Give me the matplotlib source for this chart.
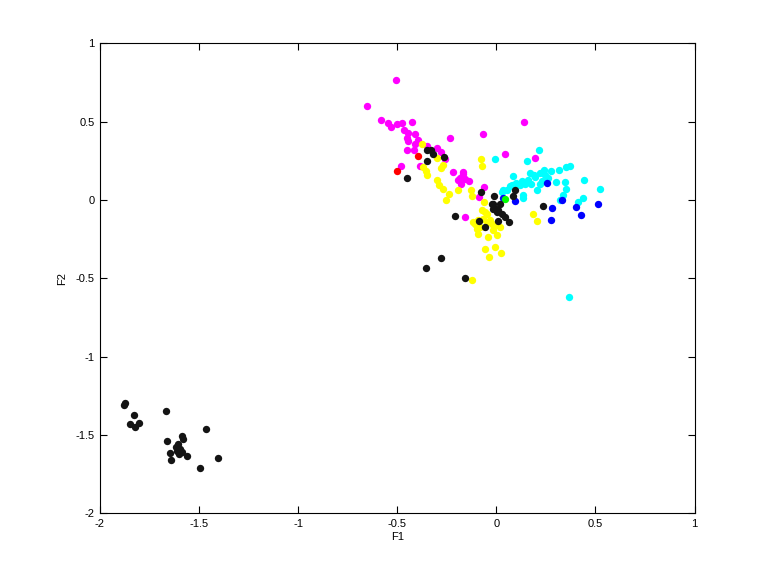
import matplotlib
matplotlib.use("Agg")
import matplotlib.pyplot as plt

plt.rcParams['font.family'] = ['Liberation Sans', 'DejaVu Sans']

magenta_x = [-0.505, -0.655, -0.580, -0.545, -0.532, -0.503, -0.478, -0.424, -0.467, -0.444,
             -0.409, -0.452, -0.394, -0.447, -0.409, -0.449, -0.415, -0.352, -0.299, -0.281,
             -0.259, -0.233, -0.066, 0.141, 0.045, 0.196, -0.481, -0.385, -0.218, -0.170,
             -0.184, -0.159, -0.139, -0.179, -0.169, -0.194, -0.061, -0.090, -0.157]
magenta_y = [0.768, 0.602, 0.513, 0.491, 0.466, 0.483, 0.494, 0.500, 0.445, 0.427,
             0.419, 0.398, 0.385, 0.376, 0.355, 0.317, 0.322, 0.343, 0.330, 0.304,
             0.262, 0.398, 0.424, 0.500, 0.296, 0.270, 0.215, 0.219, 0.181, 0.181,
             0.143, 0.136, 0.121, 0.104, 0.164, 0.126, 0.083, 0.021, -0.106]

red_x = [-0.394, -0.502]
red_y = [0.283, 0.187]

yellow_x = [-0.374, -0.298, -0.369, -0.355, -0.349, -0.281, -0.268, -0.080, -0.074, -0.298,
            -0.288, -0.271, -0.253, -0.238, -0.192, -0.126, -0.121, -0.061, -0.074, -0.049,
            -0.033, -0.091, -0.108, -0.083, -0.091, -0.041, -0.016, 0.002, 0.018, -0.066,
            -0.024, -0.116, -0.099, -0.048, -0.058, -0.008, -0.056, -0.005, 0.025, -0.036,
            0.186, 0.206, -0.121]
yellow_y = [0.360, 0.265, 0.213, 0.185, 0.159, 0.207, 0.226, 0.264, 0.218, 0.128,
            0.095, 0.073, -0.003, 0.041, 0.066, 0.066, 0.028, -0.013, -0.066, -0.087,
            -0.125, -0.130, -0.151, -0.173, -0.215, -0.236, -0.194, -0.225, -0.173, -0.119,
            -0.151, -0.141, -0.183, -0.143, -0.079, -0.162, -0.310, -0.297, -0.336, -0.367,
            -0.087, -0.137, -0.508]

cyan_x = [-0.005, 0.153, 0.216, 0.086, 0.170, 0.195, 0.220, 0.245, 0.278, 0.316,
          0.353, 0.370, 0.300, 0.346, 0.353, 0.336, 0.320, 0.440, 0.522, 0.436,
          0.411, 0.203, 0.175, 0.145, 0.119, 0.078, 0.055, 0.035, 0.136, 0.133,
          0.366, 0.160, 0.230, 0.260, 0.190, 0.240, 0.220, 0.100, 0.130, 0.070, 0.030]
cyan_y = [0.264, 0.247, 0.321, 0.151, 0.172, 0.147, 0.172, 0.157, 0.185, 0.194,
          0.210, 0.219, 0.113, 0.113, 0.073, 0.030, 0.002, 0.130, 0.073, 0.011,
          -0.010, 0.066, 0.104, 0.100, 0.094, 0.094, 0.066, 0.062, 0.030, 0.015,
          -0.619, 0.130, 0.120, 0.140, 0.160, 0.190, 0.100, 0.110, 0.120, 0.090, 0.050]

blue_x = [0.253, 0.035, 0.096, 0.283, 0.333, 0.400, 0.427, 0.513, 0.276]
blue_y = [0.108, 0.015, -0.009, -0.049, -0.002, -0.045, -0.093, -0.023, -0.130]

green_x = [0.043]
green_y = [0.004]

black_x = [-0.352, -0.332, -0.319, -0.349, -0.266, -0.452, -0.076, -0.011, 0.094, 0.086,
           -0.019, 0.018, -0.002, 0.027, 0.043, 0.005, -0.024, -0.017, 0.010, -0.086,
           0.010, 0.065, -0.056, -0.208, 0.236, -0.278, -0.354, -0.157,
           -1.872, -1.877, -1.830, -1.847, -1.822, -1.805, -1.665, -1.464, -1.660, -1.585,
           -1.580, -1.605, -1.616, -1.596, -1.610, -1.588, -1.600, -1.646, -1.640, -1.560,
           -1.403, -1.494]
black_y = [0.317, 0.322, 0.296, 0.249, 0.274, 0.143, 0.053, 0.028, 0.062, 0.028,
           -0.023, -0.023, -0.055, -0.087, -0.107, -0.077, -0.023, -0.055, -0.066, -0.131,
           -0.131, -0.138, -0.171, -0.100, -0.036, -0.368, -0.432, -0.496,
           -1.293, -1.309, -1.370, -1.427, -1.449, -1.421, -1.344, -1.459, -1.540, -1.508,
           -1.526, -1.555, -1.577, -1.587, -1.602, -1.609, -1.619, -1.615, -1.657, -1.632,
           -1.645, -1.708]

x_ticks = [-2, -1.5, -1, -0.5, 0, 0.5, 1]
y_ticks = [-2, -1.5, -1, -0.5, 0, 0.5, 1]

fig = plt.figure(figsize=(7.68, 5.76), dpi=100)
ax = fig.add_axes([0.1302, 0.1088, 0.7742, 0.816])

ms = 5.3
groups = [
    (magenta_x, magenta_y, '#ff00ff'),
    (red_x, red_y, '#ff0000'),
    (yellow_x, yellow_y, '#ffff00'),
    (cyan_x, cyan_y, '#00ffff'),
    (blue_x, blue_y, '#0000ff'),
    (green_x, green_y, '#00ff00'),
    (black_x, black_y, '#141414'),
]
for xs, ys, c in groups:
    ax.plot(xs, ys, linestyle='none', marker='o', markersize=ms,
            markerfacecolor=c, markeredgecolor=c, markeredgewidth=0)

ax.set_xlim(-2, 1)
ax.set_ylim(-2, 1)
ax.set_xticks(x_ticks)
ax.set_yticks(y_ticks)
ax.set_xticklabels([f"{t:g}" for t in x_ticks])
ax.set_yticklabels([f"{t:g}" for t in y_ticks])
ax.tick_params(direction='in', top=True, right=True, length=5, width=0.8,
               labelsize=8, pad=4)
for s in ax.spines.values():
    s.set_linewidth(0.8)
ax.set_xlabel('F1', fontsize=8, labelpad=2)
ax.set_ylabel('F2', fontsize=8, labelpad=6)

fig.savefig('out.png', dpi=100)
